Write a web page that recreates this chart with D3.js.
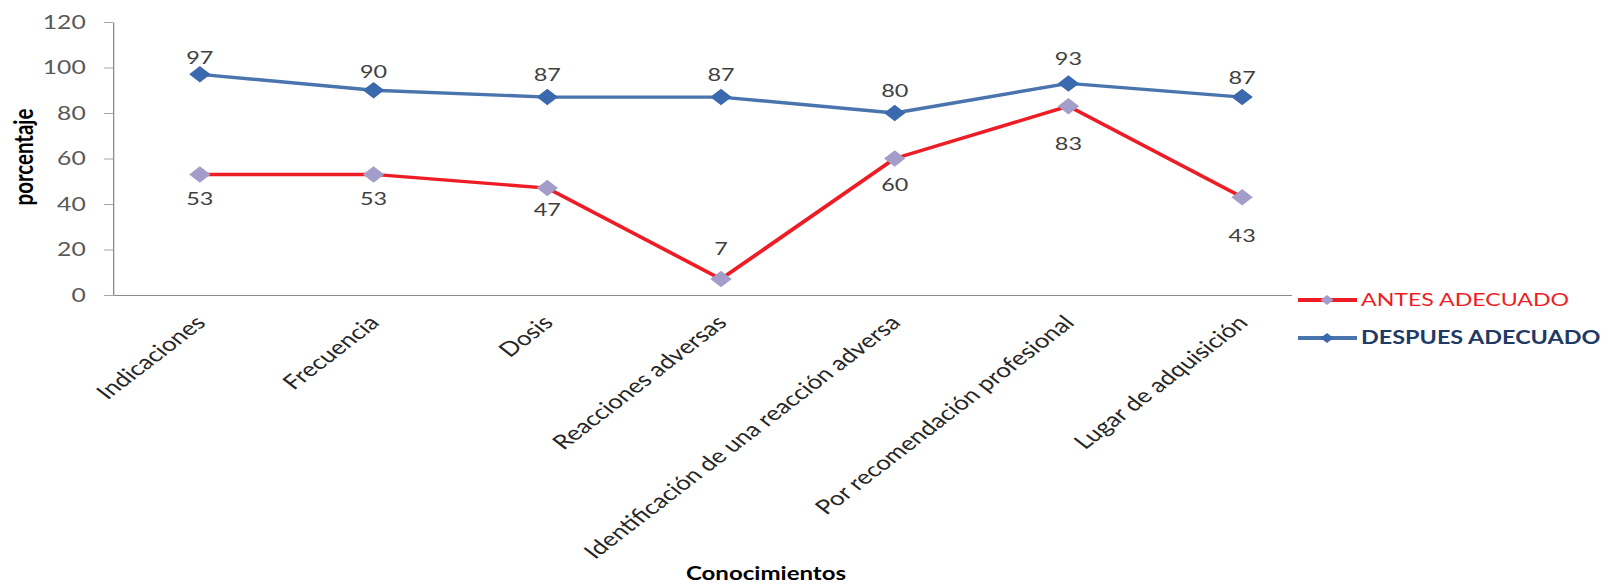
<!DOCTYPE html>
<html>
<head>
<meta charset="utf-8">
<script src="https://cdn.jsdelivr.net/npm/d3@7"></script>
<style>
  body { margin: 0; background: #fff; }
  svg { display: block; }
  text { font-family: Lato, "Open Sans", sans-serif; }
</style>
</head>
<body>
<svg id="chart" width="1606" height="586"></svg>
<script>
// Chart data
const categories = [
  "Indicaciones",
  "Frecuencia",
  "Dosis",
  "Reacciones adversas",
  "Identificación de una reacción adversa",
  "Por recomendación profesional",
  "Lugar de adquisición"
];
const antesAdecuado = [53, 53, 47, 7, 60, 83, 43];
const despuesAdecuado = [97, 90, 87, 87, 80, 93, 87];
const yTicks = [0, 20, 40, 60, 80, 100, 120];
const seriesNames = ["ANTES ADECUADO", "DESPUES ADECUADO"];

// Layout: the whole drawing is widened horizontally by this factor
const SX = 1.3;
// Vertical distance of each value label from its point (px)
const antesLabelDy = [24, 24, 22, -30, 26, 38, 39];
const despuesLabelDy = [-17, -19, -22, -22, -22, -25, -19];

const svg = d3.select("#chart");
const g = svg.append("g").attr("transform", `scale(${SX},1)`);

const plotLeft = 113 / SX, plotRight = 1329 / SX;
const plotTop = 22, plotBottom = 295;

const x = d3.scalePoint().domain(categories).range([plotLeft, plotRight]).padding(0.5);
const y = d3.scaleLinear().domain([0, 120]).range([plotBottom, plotTop]);

// Y axis
const yAxis = g.append("g")
  .attr("transform", `translate(${plotLeft},0)`)
  .call(d3.axisLeft(y).tickValues(yTicks).tickSize(7).tickSizeOuter(0).tickPadding(14));
yAxis.select(".domain").attr("stroke", "#8c8c8c");
yAxis.selectAll(".tick line").attr("stroke", "#a6a6a6");
yAxis.selectAll(".tick text")
  .attr("fill", "#595959")
  .style("font-size", "19px");

// X axis with rotated category labels
const xAxis = g.append("g")
  .attr("transform", `translate(0,${plotBottom})`)
  .call(d3.axisBottom(x).tickSize(0).tickSizeOuter(0));
xAxis.select(".domain").attr("stroke", "#8c8c8c");
xAxis.selectAll(".tick text")
  .attr("x", 0).attr("y", 0).attr("dy", 0)
  .attr("text-anchor", "end")
  .attr("transform", "translate(5,29) rotate(-45)")
  .attr("fill", "#262626")
  .style("font-size", "20px");

// Series
const line = d3.line()
  .x((d, i) => x(categories[i]))
  .y(d => y(d));

const series = [
  { name: seriesNames[0], values: antesAdecuado, labelDy: antesLabelDy, stroke: "#ee1c25", marker: "#a39ec9" },
  { name: seriesNames[1], values: despuesAdecuado, labelDy: despuesLabelDy, stroke: "#4a74ad", marker: "#3b69ad" }
];

const diamond = d3.symbol(d3.symbolSquare, 135);

series.forEach(s => {
  g.append("path")
    .datum(s.values)
    .attr("fill", "none")
    .attr("stroke", s.stroke)
    .attr("stroke-width", 3.4)
    .attr("stroke-linejoin", "round")
    .attr("d", line);

  g.selectAll(null)
    .data(s.values)
    .join("path")
    .attr("d", diamond)
    .attr("fill", s.marker)
    .attr("transform", (d, i) => `translate(${x(categories[i])},${y(d)}) rotate(45)`);

  g.selectAll(null)
    .data(s.values)
    .join("text")
    .attr("x", (d, i) => x(categories[i]))
    .attr("y", (d, i) => y(d) + s.labelDy[i])
    .attr("dy", "0.35em")
    .attr("text-anchor", "middle")
    .attr("fill", "#404040")
    .style("font-size", "18px")
    .text(d => d);
});

// Axis titles
g.append("text")
  .attr("transform", `translate(${24 / SX},157) rotate(-90)`)
  .attr("text-anchor", "middle")
  .attr("dy", "0.35em")
  .attr("fill", "#000")
  .style("font-size", "20.5px")
  .style("font-weight", "bold")
  .text("porcentaje");

g.append("text")
  .attr("x", 766 / SX)
  .attr("y", 574)
  .attr("dy", "0.35em")
  .attr("text-anchor", "middle")
  .attr("fill", "#000")
  .style("font-size", "18.5px")
  .style("font-weight", "bold")
  .text("Conocimientos");

// Legend
const legend = g.append("g");
legend.append("rect")
  .attr("x", 1292 / SX).attr("y", 280)
  .attr("width", (1606 - 1292) / SX).attr("height", 75)
  .attr("fill", "#fff");

const legendY = [300, 338];
const legendMarker = d3.symbol(d3.symbolSquare, 50);
series.forEach((s, i) => {
  const row = legend.append("g").attr("transform", `translate(0,${legendY[i]})`);
  row.append("line")
    .attr("x1", 1298 / SX).attr("x2", 1357 / SX)
    .attr("stroke", s.stroke).attr("stroke-width", 4);
  row.append("path")
    .attr("d", legendMarker)
    .attr("fill", s.marker)
    .attr("transform", `translate(${1327 / SX},0) rotate(45)`);
  row.append("text")
    .attr("x", 1361 / SX)
    .attr("dy", "0.35em")
    .attr("fill", i === 0 ? "#ee1c25" : "#1f3a64")
    .style("font-size", i === 0 ? "17.8px" : "18px")
    .style("font-weight", i === 0 ? "normal" : "bold")
    .text(s.name);
});
</script>
</body>
</html>
